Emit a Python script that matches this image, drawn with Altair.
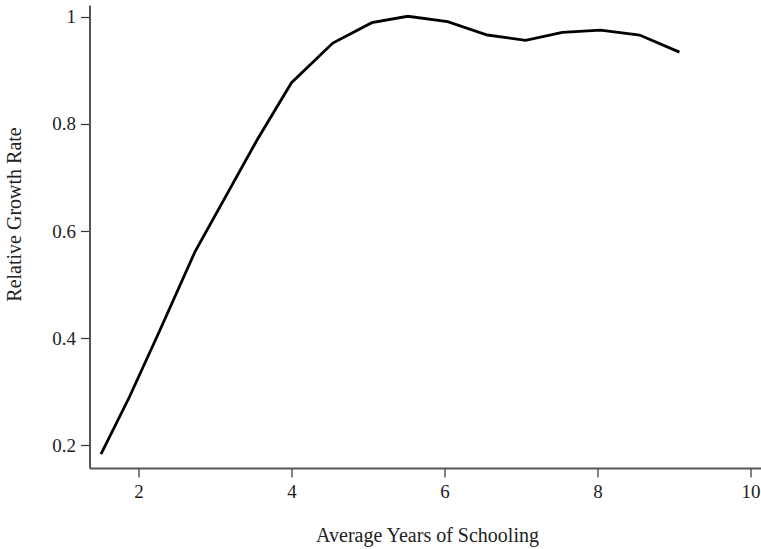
import altair as alt
import pandas as pd

# Average years of schooling and the relative growth rate at each point
schooling = [1.51, 1.88, 2.28, 2.74, 3.55, 4.00, 4.54, 5.05, 5.52, 6.04,
             6.56, 7.06, 7.54, 8.04, 8.55, 9.07]
growth = [0.184, 0.290, 0.415, 0.562, 0.770, 0.877, 0.951, 0.989, 1.001, 0.991,
          0.966, 0.956, 0.971, 0.975, 0.966, 0.934]

x_ticks = [2, 4, 6, 8, 10]
y_ticks = [0.2, 0.4, 0.6, 0.8, 1.0]

df = pd.DataFrame({"schooling": schooling, "growth": growth})

FONT = "Liberation Serif"
PLOT_W = 671
PLOT_H = 463

line = alt.Chart(df).mark_line(color="black", strokeWidth=2.8, strokeJoin="miter").encode(
    x=alt.X(
        "schooling:Q",
        scale=alt.Scale(domain=[1.36, 10.13], nice=False, zero=False),
        axis=alt.Axis(
            title="Average Years of Schooling",
            values=x_ticks,
            format="d",
            grid=False,
            tickSize=9,
            labelPadding=5,
            titleX=PLOT_W / 2 + 2,
            titleY=67,
            titleBaseline="middle",
        ),
    ),
    y=alt.Y(
        "growth:Q",
        scale=alt.Scale(domain=[0.158, 1.022], nice=False, zero=False),
        axis=alt.Axis(
            title="Relative Growth Rate",
            values=y_ticks,
            labelExpr="datum.value == 1 ? '1' : format(datum.value, '.1f')",
            grid=False,
            tickSize=9,
            labelPadding=5,
            titleAngle=270,
            titleX=-75,
            titleY=209,
            titleAlign="center",
            titleBaseline="middle",
        ),
    ),
)

chart = (
    line.properties(
        width=PLOT_W,
        height=PLOT_H,
        autosize=alt.AutoSizeParams(type="none"),
        padding={"left": 89.5, "top": 5, "right": 0, "bottom": 81},
        background="white",
    )
    .configure_view(stroke=None)
    .configure_axis(
        domainColor="#555555",
        domainWidth=2,
        tickColor="#333333",
        tickWidth=1.2,
        labelFont=FONT,
        labelFontSize=19,
        labelColor="#222222",
        titleFont=FONT,
        titleFontSize=20,
        titleFontWeight="normal",
        titleColor="#222222",
    )
)

chart.save("out.html", embed_options={"renderer": "svg", "actions": False})
